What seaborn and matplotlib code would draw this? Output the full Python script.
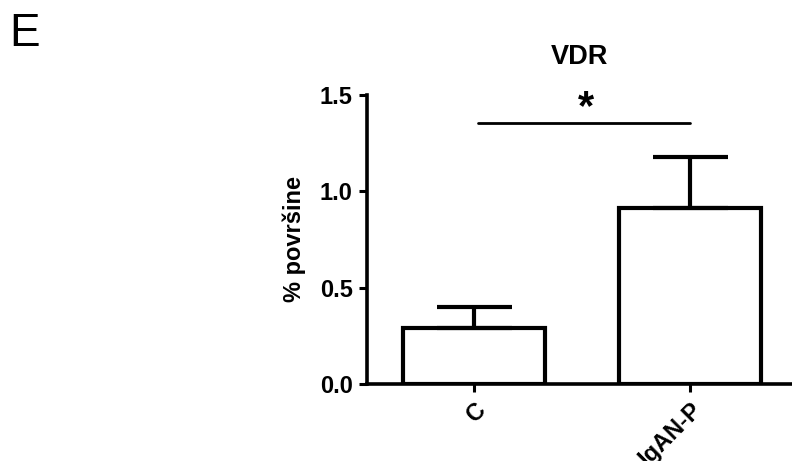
import matplotlib
matplotlib.use("Agg")
import matplotlib.pyplot as plt
import pandas as pd
import seaborn as sns

groups = ["C", "IgAN-P"]
means = [0.289, 0.912]
errors = [0.112, 0.265]
sig_level = 1.356

sns.set_style("ticks")
plt.rcParams["font.family"] = ["Liberation Sans", "DejaVu Sans"]
plt.rcParams["text.color"] = "black"
plt.rcParams["axes.labelcolor"] = "black"
plt.rcParams["xtick.color"] = "black"
plt.rcParams["ytick.color"] = "black"

df = pd.DataFrame({"group": groups, "value": means})

fig = plt.figure(figsize=(7.92, 4.61), dpi=100)
ax = fig.add_axes([0.463, 0.167, 0.537, 0.627])

sns.barplot(data=df, x="group", y="value", ax=ax, color="white",
            edgecolor="black", linewidth=3, width=0.655, errorbar=None)
ax.errorbar(range(len(groups)), means, yerr=[[0] * len(errors), errors],
            fmt="none", ecolor="black", elinewidth=3, capsize=27, capthick=3)

ax.set_ylim(0, 1.5)
ax.set_xlim(-0.495, 1.47)
ax.set_yticks([0.0, 0.5, 1.0, 1.5])
ax.set_yticklabels(["0.0", "0.5", "1.0", "1.5"], fontsize=17, fontweight="bold")
ax.set_xticks(range(len(groups)))
ax.set_xticklabels(groups, fontsize=17, fontweight="bold", rotation=45,
                   ha="right", rotation_mode="anchor")
ax.tick_params(axis="both", width=2.2, length=6, color="black", pad=4)
ax.set_xlabel("")
ax.set_ylabel("% površine", fontsize=17, fontweight="bold", labelpad=10)
ax.set_title("VDR", fontsize=19.5, fontweight="bold", pad=22)
sns.despine(ax=ax)
for s in ["left", "bottom"]:
    ax.spines[s].set_linewidth(2.6)
    ax.spines[s].set_color("black")

# significance bar
ax.plot([0.02, 1.0], [sig_level, sig_level], color="black", lw=2, clip_on=False)
ax.text(0.52, 1.43, "*", ha="center", va="center", fontsize=30,
        fontweight="bold")

fig.text(0.012, 0.975, "E", fontsize=33, va="top", ha="left")

fig.savefig("out.png", dpi=100)
